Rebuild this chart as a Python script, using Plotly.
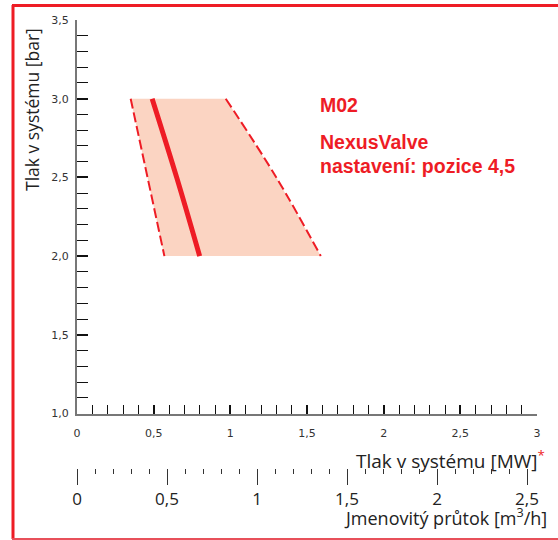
import plotly.graph_objects as go

# ---- data ----
region_x = [0.35, 0.97, 1.30, 1.59, 0.57]
region_y = [3.0, 3.0, 2.5, 2.0, 2.0]
left_edge_x = [0.35, 0.57]
left_edge_y = [3.0, 2.0]
right_edge_x = [0.97, 1.30, 1.59]
right_edge_y = [3.0, 2.5, 2.0]
curve_x = [0.49, 0.65, 0.80]
curve_y = [3.0, 2.5, 2.0]

W, H = 558, 540
RED = "#ee1c25"
FILL = "#fbd4c2"

def px(x):
    return x / W

def py(y):
    return 1 - y / H

fig = go.Figure()
fig.add_trace(go.Scatter(x=region_x, y=region_y, fill="toself", fillcolor=FILL,
                         mode="lines", line=dict(width=0), hoverinfo="skip", showlegend=False))
fig.add_trace(go.Scatter(x=left_edge_x, y=left_edge_y, mode="lines",
                         line=dict(color=RED, width=2, dash="10px,4px"), showlegend=False))
fig.add_trace(go.Scatter(x=right_edge_x, y=right_edge_y, mode="lines",
                         line=dict(color=RED, width=2, dash="10px,4px", shape="spline"), showlegend=False))
fig.add_trace(go.Scatter(x=curve_x, y=curve_y, mode="lines",
                         line=dict(color=RED, width=5, shape="spline"), showlegend=False))
# invisible trace for secondary (flow) axis
fig.add_trace(go.Scatter(x=[0, 2.5], y=[0, 0], xaxis="x2", yaxis="y2", mode="markers",
                         marker=dict(opacity=0), hoverinfo="skip", showlegend=False))

tickfont = dict(family="DejaVu Sans", size=11, color="#333")

fig.update_layout(
    width=W, height=H,
    margin=dict(l=0, r=0, t=0, b=0, pad=0, autoexpand=False),
    paper_bgcolor="white", plot_bgcolor="rgba(0,0,0,0)",
    separators=", ",
    xaxis=dict(domain=[px(77), px(537)], range=[0, 3], showgrid=False, zeroline=False,
               showline=True, linecolor="#777", linewidth=2, automargin=False,
               ticks="inside", ticklen=9, tickwidth=2, tickcolor="#111", dtick=0.5,
               minor=dict(dtick=0.1, ticks="inside", ticklen=9, tickwidth=1, tickcolor="#111"),
               tickfont=tickfont, ticklabelstandoff=8, anchor="y"),
    yaxis=dict(domain=[py(413.5), py(20)], range=[1.0, 3.5], showgrid=False, zeroline=False,
               showline=True, linecolor="#777", linewidth=2, automargin=False,
               ticks="inside", ticklen=11, tickwidth=2, tickcolor="#111", dtick=0.5,
               tickformat=".1f",
               minor=dict(dtick=0.1, ticks="inside", ticklen=11, tickwidth=1, tickcolor="#111"),
               tickfont=tickfont, ticklabelstandoff=4, anchor="x"),
    xaxis2=dict(domain=[px(77), px(537)], anchor="y2",
                range=[0, 460 / 180], showgrid=False, zeroline=False, showline=False,
                automargin=False,
                ticks="outside", ticklen=16, tickwidth=1.2, tickcolor="#333", dtick=0.5,
                minor=dict(dtick=0.1, ticks="outside", ticklen=5, tickwidth=1, tickcolor="#333"),
                tickfont=dict(family="Open Sans", size=17, color="#222")),
    yaxis2=dict(domain=[py(468), py(445)], anchor="x2", visible=False, range=[0, 1]),
)

ann_font = dict(family="Liberation Sans, Arial", size=19.5, color=RED)
fig.add_annotation(x=px(318), y=py(105), xref="paper", yref="paper", text="<b>M02</b>",
                   showarrow=False, xanchor="left", yanchor="middle", font=ann_font)
fig.add_annotation(x=px(318), y=py(142), xref="paper", yref="paper", text="<b>NexusValve</b>",
                   showarrow=False, xanchor="left", yanchor="middle", font=ann_font)
fig.add_annotation(x=px(318), y=py(166), xref="paper", yref="paper", text="<b>nastavení: pozice 4,5</b>",
                   showarrow=False, xanchor="left", yanchor="middle", font=ann_font)

fig.add_annotation(x=px(32), y=py(110), xref="paper", yref="paper", text="Tlak v systému [bar]",
                   textangle=-90, showarrow=False, xanchor="center", yanchor="middle",
                   font=dict(family="Open Sans", size=17.5, color="#222"))
fig.add_annotation(x=px(547), y=py(460), xref="paper", yref="paper",
                   text="Tlak v systému [MW]<span style='color:#ee1c25'><sup>*</sup></span>",
                   showarrow=False, xanchor="right", yanchor="middle",
                   font=dict(family="Open Sans", size=19, color="#222"))
fig.add_annotation(x=px(549), y=py(517), xref="paper", yref="paper",
                   text="Jmenovitý průtok [m<sup>3</sup>/h]",
                   showarrow=False, xanchor="right", yanchor="middle",
                   font=dict(family="Open Sans", size=18, color="#222"))

# red frame
fig.add_shape(type="line", xref="paper", yref="paper", x0=px(13), x1=px(13), y0=py(5), y1=py(539),
              line=dict(color=RED, width=3))
fig.add_shape(type="line", xref="paper", yref="paper", x0=px(12), x1=1, y0=py(5.5), y1=py(5.5),
              line=dict(color=RED, width=3))
fig.add_shape(type="line", xref="paper", yref="paper", x0=px(12), x1=1, y0=py(539), y1=py(539),
              line=dict(color="#e8505a", width=2))

fig.write_html("out.html", config={"displayModeBar": False},
               post_script="document.body.style.margin='0';document.body.style.overflow='hidden';")
